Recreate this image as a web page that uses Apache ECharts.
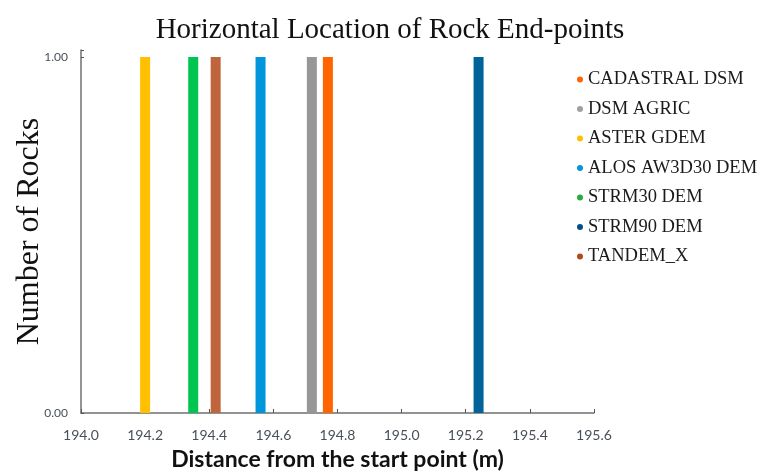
<!DOCTYPE html>
<html><head><meta charset="utf-8">
<script src="https://cdn.jsdelivr.net/npm/echarts@6/dist/echarts.min.js"></script>
<style>html,body{margin:0;padding:0;background:#fff}#c{width:760px;height:475px}</style>
</head><body><div id="c"></div>
<script>
const seriesNames = ['CADASTRAL DSM','DSM AGRIC','ASTER GDEM','ALOS AW3D30 DEM','STRM30 DEM','STRM90 DEM','TANDEM_X'];
const endPoints = [194.77, 194.72, 194.20, 194.56, 194.35, 195.24, 194.42];
const rockCounts = [1, 1, 1, 1, 1, 1, 1];
const colors = ['#FF6400','#979797','#FFC000','#0096DC','#00C550','#00649A','#C0643C'];
const legendColors = ['#FF6400','#A0A0A0','#FFC000','#0096DC','#2EAA3C','#004F8C','#B04A1A'];
const xTicks = [194.0,194.2,194.4,194.6,194.8,195.0,195.2,195.4,195.6];
const yTicks = [0, 1];

const chart = echarts.init(document.getElementById('c'));
chart.setOption({
  animation:false,
  title:{text:'Horizontal Location of Rock End-points',left:385,top:11,textAlign:'center',
    textStyle:{fontFamily:'Liberation Serif',fontWeight:'normal',fontSize:29,color:'#111'}},
  legend:{orient:'vertical',left:572,top:65,itemGap:10.5,itemWidth:6,itemHeight:6,icon:'circle',
    textStyle:{fontFamily:'Liberation Serif',fontSize:18.5,lineHeight:18,color:'#1a1a1a'},
    data:seriesNames.map((n,i)=>({name:n,itemStyle:{color:legendColors[i]}}))},
  grid:{left:81,right:166,top:50,bottom:62,containLabel:false,outerBoundsMode:'none'},
  xAxis:{type:'value',min:xTicks[0],max:xTicks[xTicks.length-1],interval:0.2,
    name:'Distance from the start point (m)',nameLocation:'middle',nameGap:35,
    nameTextStyle:{fontFamily:'Lato',fontWeight:'bold',fontSize:23,color:'#111'},
    axisLine:{lineStyle:{color:'#707070',width:1.5}},
    axisTick:{inside:true,length:4,lineStyle:{color:'#555'}},
    axisLabel:{fontSize:14,color:'#4a4f5c',fontFamily:'Lato',margin:15,formatter:v=>v.toFixed(1)},
    splitLine:{show:false}},
  yAxis:{type:'value',min:0,max:1.02,interval:1,
    name:'Number of Rocks',nameLocation:'middle',nameGap:35,nameMoveOverlap:false,
    nameTextStyle:{fontFamily:'Liberation Serif',fontSize:32,color:'#111'},
    axisLine:{show:true,lineStyle:{color:'#707070',width:1.5}},
    axisTick:{show:true,inside:true,length:3,lineStyle:{color:'#555'}},
    axisLabel:{fontSize:12,color:'#4a4f5c',fontFamily:'Lato',margin:13,
      formatter:v=>yTicks.includes(v)?v.toFixed(2):''},
    splitLine:{show:false}},
  series:seriesNames.map((n,i)=>({name:n,type:'bar',barWidth:10,barGap:'-100%',
    itemStyle:{color:colors[i]},data:[[endPoints[i],rockCounts[i]]]}))
});
</script></body></html>
